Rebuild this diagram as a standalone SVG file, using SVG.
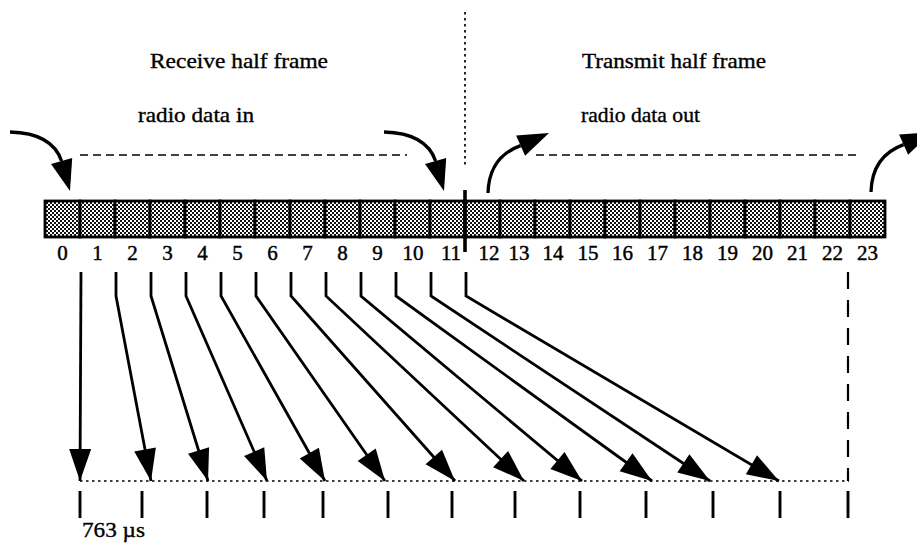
<svg xmlns="http://www.w3.org/2000/svg" width="917" height="543" viewBox="0 0 917 543">
  <style>
    .title { font-family: "Liberation Serif", "Times New Roman", serif; font-size: 21px; fill: #000; stroke: #000; stroke-width: 0.35; }
    .num { font-family: "Liberation Serif", "Times New Roman", serif; font-size: 21px; fill: #000; stroke: #000; stroke-width: 0.45; text-anchor: middle; }
    .cell { fill: url(#stipple); stroke: #000; stroke-width: 2.8; }
    .conn { fill: none; stroke: #000; stroke-width: 2.8; }
    .curve { fill: none; stroke: #000; stroke-width: 3.3; }
    .head { fill: #000; stroke: none; }
    .dash { fill: none; stroke: #000; stroke-width: 1.3; stroke-dasharray: 8 5; }
    .dot { fill: none; stroke: #000; stroke-width: 1.7; stroke-dasharray: 2.5 3.5; }
    .tick { fill: none; stroke: #000; stroke-width: 2.9; }
  </style>
  <defs>
    <pattern id="stipple" patternUnits="userSpaceOnUse" width="4" height="4">
      <rect width="4" height="4" fill="#fff"/>
      <rect x="0" y="0" width="2" height="2" fill="#111"/>
      <rect x="2" y="2" width="2" height="2" fill="#111"/>
    </pattern>
    <marker id="arrow" markerUnits="userSpaceOnUse" markerWidth="34" markerHeight="24" viewBox="0 0 34 24" refX="33" refY="12" orient="auto">
      <path d="M1,1 L33,12 L1,23 Z" fill="#000"/>
    </marker>
  </defs>

  <rect width="917" height="543" fill="#fff"/>

  <!-- headings -->
  <g id="labels">
    <text class="title" x="150" y="68" textLength="178" lengthAdjust="spacingAndGlyphs">Receive half frame</text>
    <text class="title" x="582" y="68" textLength="184" lengthAdjust="spacingAndGlyphs">Transmit half frame</text>
    <text class="title" x="138" y="122" textLength="116" lengthAdjust="spacingAndGlyphs">radio data in</text>
    <text class="title" x="581" y="122" textLength="119" lengthAdjust="spacingAndGlyphs">radio data out</text>
    <text class="title" x="82" y="537" textLength="63" lengthAdjust="spacingAndGlyphs">763 µs</text>
  </g>

  <!-- half-frame separator and data spans -->
  <g id="guides">
    <line class="dot" x1="465" y1="12" x2="465" y2="166"/>
    <line class="dash" x1="80" y1="155" x2="407" y2="155"/>
    <line class="dash" x1="536" y1="155" x2="860" y2="155"/>
  </g>

  <!-- 24 time slots -->
  <g id="slots">
    <g id="slot0"><rect class="cell" x="45" y="201" width="35" height="36"/><text class="num" x="62.5" y="260">0</text></g>
    <g id="slot1"><rect class="cell" x="80" y="201" width="35" height="36"/><text class="num" x="97.5" y="260">1</text></g>
    <g id="slot2"><rect class="cell" x="115" y="201" width="35" height="36"/><text class="num" x="132.5" y="260">2</text></g>
    <g id="slot3"><rect class="cell" x="150" y="201" width="35" height="36"/><text class="num" x="167.5" y="260">3</text></g>
    <g id="slot4"><rect class="cell" x="185" y="201" width="35" height="36"/><text class="num" x="202.5" y="260">4</text></g>
    <g id="slot5"><rect class="cell" x="220" y="201" width="35" height="36"/><text class="num" x="237.5" y="260">5</text></g>
    <g id="slot6"><rect class="cell" x="255" y="201" width="35" height="36"/><text class="num" x="272.5" y="260">6</text></g>
    <g id="slot7"><rect class="cell" x="290" y="201" width="35" height="36"/><text class="num" x="307.5" y="260">7</text></g>
    <g id="slot8"><rect class="cell" x="325" y="201" width="35" height="36"/><text class="num" x="342.5" y="260">8</text></g>
    <g id="slot9"><rect class="cell" x="360" y="201" width="35" height="36"/><text class="num" x="377.5" y="260">9</text></g>
    <g id="slot10"><rect class="cell" x="395" y="201" width="35" height="36"/><text class="num" x="413" y="260">10</text></g>
    <g id="slot11"><rect class="cell" x="430" y="201" width="35" height="36"/><text class="num" x="451" y="260">11</text></g>
    <g id="slot12"><rect class="cell" x="465" y="201" width="35" height="36"/><text class="num" x="489" y="260">12</text></g>
    <g id="slot13"><rect class="cell" x="500" y="201" width="35" height="36"/><text class="num" x="519" y="260">13</text></g>
    <g id="slot14"><rect class="cell" x="535" y="201" width="35" height="36"/><text class="num" x="553" y="260">14</text></g>
    <g id="slot15"><rect class="cell" x="570" y="201" width="35" height="36"/><text class="num" x="588" y="260">15</text></g>
    <g id="slot16"><rect class="cell" x="605" y="201" width="35" height="36"/><text class="num" x="622.5" y="260">16</text></g>
    <g id="slot17"><rect class="cell" x="640" y="201" width="35" height="36"/><text class="num" x="657.5" y="260">17</text></g>
    <g id="slot18"><rect class="cell" x="675" y="201" width="35" height="36"/><text class="num" x="692.5" y="260">18</text></g>
    <g id="slot19"><rect class="cell" x="710" y="201" width="35" height="36"/><text class="num" x="727.5" y="260">19</text></g>
    <g id="slot20"><rect class="cell" x="745" y="201" width="35" height="36"/><text class="num" x="762.5" y="260">20</text></g>
    <g id="slot21"><rect class="cell" x="780" y="201" width="35" height="36"/><text class="num" x="797.5" y="260">21</text></g>
    <g id="slot22"><rect class="cell" x="815" y="201" width="35" height="36"/><text class="num" x="832.5" y="260">22</text></g>
    <g id="slot23"><rect class="cell" x="850" y="201" width="35" height="36"/><text class="num" x="867.5" y="260">23</text></g>
    <!-- receive / transmit boundary -->
    <line x1="465" y1="190" x2="465" y2="252" stroke="#000" stroke-width="3.6"/>
  </g>

  <!-- timeline ticks -->
  <g id="timeline">
    <line class="dot" x1="80" y1="481" x2="849" y2="481"/>
    <line class="tick" x1="80" y1="491" x2="80" y2="518"/>
    <line class="tick" x1="142" y1="491" x2="142" y2="518"/>
    <line class="tick" x1="207" y1="491" x2="207" y2="518"/>
    <line class="tick" x1="264" y1="491" x2="264" y2="518"/>
    <line class="tick" x1="323" y1="491" x2="323" y2="518"/>
    <line class="tick" x1="388" y1="491" x2="388" y2="518"/>
    <line class="tick" x1="452" y1="491" x2="452" y2="518"/>
    <line class="tick" x1="515" y1="491" x2="515" y2="518"/>
    <line class="tick" x1="580" y1="491" x2="580" y2="518"/>
    <line class="tick" x1="646" y1="491" x2="646" y2="518"/>
    <line class="tick" x1="713" y1="491" x2="713" y2="518"/>
    <line class="tick" x1="780" y1="491" x2="780" y2="518"/>
    <line class="tick" x1="848" y1="491" x2="848" y2="518"/>
  </g>

  <!-- connectors -->
  <g id="connectors">
    <!-- radio data in -->
    <path class="curve" d="M10,132 Q52,133 61.6,161"/>
    <polygon class="head" points="51,164.1 72.2,158.1 70,191"/>
    <g transform="translate(374,0)">
      <path class="curve" d="M10,132 Q52,133 61.6,161"/>
      <polygon class="head" points="51,164.1 72.2,158.1 70,191"/>
    </g>
    <!-- radio data out -->
    <path class="curve" d="M488,193 Q489,157 520.6,145.6"/>
    <polygon class="head" points="516.1,135.5 525.1,155.7 549,133"/>
    <g transform="translate(383,-1)">
      <path class="curve" d="M488,193 Q489,157 520.6,145.6"/>
      <polygon class="head" points="516.1,135.5 525.1,155.7 549,133"/>
    </g>

    <!-- slot to timeline mapping -->
    <path class="conn" marker-end="url(#arrow)" d="M81,272 L80,481"/>
    <path class="conn" marker-end="url(#arrow)" d="M116,272 L116,296 L151,481"/>
    <path class="conn" marker-end="url(#arrow)" d="M151,272 L151,296 L208,481"/>
    <path class="conn" marker-end="url(#arrow)" d="M186,272 L186,296 L267,481"/>
    <path class="conn" marker-end="url(#arrow)" d="M221,272 L221,296 L325,481"/>
    <path class="conn" marker-end="url(#arrow)" d="M256,272 L256,296 L385,481"/>
    <path class="conn" marker-end="url(#arrow)" d="M291,272 L291,296 L455,481"/>
    <path class="conn" marker-end="url(#arrow)" d="M326,272 L326,296 L524,481"/>
    <path class="conn" marker-end="url(#arrow)" d="M361,272 L361,296 L582,481"/>
    <path class="conn" marker-end="url(#arrow)" d="M396,272 L396,296 L652,481"/>
    <path class="conn" marker-end="url(#arrow)" d="M431,272 L431,296 L710,481"/>
    <path class="conn" marker-end="url(#arrow)" d="M466,272 L466,296 L779,481"/>

    <!-- frame end -->
    <line x1="848" y1="272" x2="848" y2="481" stroke="#000" stroke-width="2.2" stroke-dasharray="17 11"/>
  </g>
</svg>
